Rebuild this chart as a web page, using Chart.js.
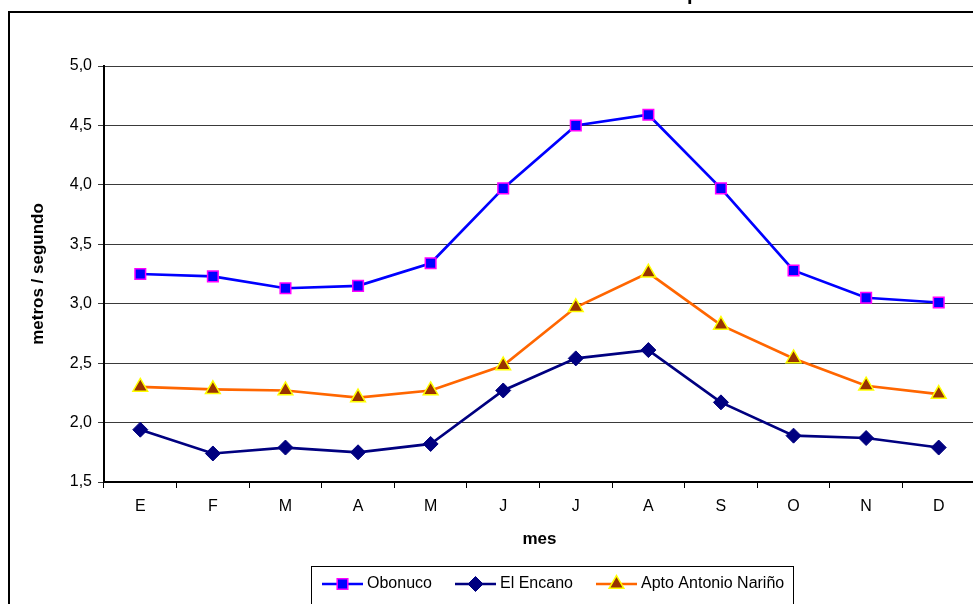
<!DOCTYPE html>
<html>
<head>
<meta charset="utf-8">
<script src="https://cdn.jsdelivr.net/npm/chart.js@4/dist/chart.umd.min.js"></script>
<style>
  html, body { margin: 0; padding: 0; background: #fff; overflow: hidden; }
  #wrap { position: relative; width: 973px; height: 604px; overflow: hidden; }
  canvas { position: absolute; left: 0; top: 0; }
</style>
</head>
<body>
<div id="wrap"><canvas id="c" width="985" height="620"></canvas></div>
<script>
// Monthly mean wind speed (m/s) at three stations
const meses = ['E', 'F', 'M', 'A', 'M', 'J', 'J', 'A', 'S', 'O', 'N', 'D'];
const obonuco = [3.25, 3.23, 3.13, 3.15, 3.34, 3.97, 4.50, 4.59, 3.97, 3.28, 3.05, 3.01];
const elEncano = [1.94, 1.74, 1.79, 1.75, 1.82, 2.27, 2.54, 2.61, 2.17, 1.89, 1.87, 1.79];
const aptoNarino = [2.30, 2.28, 2.27, 2.21, 2.27, 2.48, 2.97, 3.26, 2.82, 2.54, 2.31, 2.24];
const tituloGrafico = 'Velocidad del viento promedio';

const FONT = "'Liberation Sans', Arial, sans-serif";

// Frame around the whole chart and the title sitting above it
const framePlugin = {
  id: 'frame',
  beforeDraw(chart) {
    const ctx = chart.ctx;
    ctx.save();
    ctx.fillStyle = '#fff';
    ctx.fillRect(0, 0, chart.width, chart.height);
    ctx.strokeStyle = '#000';
    ctx.lineWidth = 2;
    ctx.strokeRect(9, 12, chart.width + 20, chart.height + 20);
    ctx.font = 'bold 20px ' + FONT;
    ctx.fillStyle = '#000';
    ctx.textBaseline = 'alphabetic';
    const pre = tituloGrafico.slice(0, tituloGrafico.indexOf('p'));
    const x0 = 687 - ctx.measureText(pre).width;
    ctx.fillText(tituloGrafico, x0, 0);
    ctx.restore();
  }
};

// Boxed legend with a line segment and marker for each series
const legendPlugin = {
  id: 'boxLegend',
  afterDraw(chart) {
    const ctx = chart.ctx;
    const y = 584;
    ctx.save();
    ctx.strokeStyle = '#000';
    ctx.lineWidth = 1;
    ctx.strokeRect(311.5, 566.5, 482, 80);
    ctx.font = '16px ' + FONT;
    ctx.textBaseline = 'middle';
    ctx.fillStyle = '#000';
    const starts = [322, 455, 596];
    chart.data.datasets.forEach((ds, i) => {
      const x = starts[i];
      ctx.strokeStyle = ds.borderColor;
      ctx.lineWidth = ds.borderWidth;
      ctx.beginPath();
      ctx.moveTo(x, y);
      ctx.lineTo(x + 41, y);
      ctx.stroke();
      ctx.fillStyle = ds.pointBackgroundColor;
      ctx.strokeStyle = ds.pointBorderColor;
      ctx.lineWidth = ds.pointBorderWidth;
      Chart.helpers.drawPoint(ctx, {
        pointStyle: ds.pointStyle,
        radius: ds.pointRadius,
        rotation: 0,
        borderWidth: ds.pointBorderWidth
      }, x + 20.5, y);
      ctx.fillStyle = '#000';
      ctx.fillText(ds.label, x + 45, y);
    });
    ctx.restore();
  }
};

new Chart(document.getElementById('c'), {
  type: 'line',
  data: {
    labels: meses,
    datasets: [
      {
        label: 'Obonuco',
        data: obonuco,
        borderColor: '#0000ff',
        borderWidth: 2.7,
        pointStyle: 'rect',
        pointRadius: 7.5,
        pointBackgroundColor: '#0000ff',
        pointBorderColor: '#ff00ff',
        pointBorderWidth: 1.5
      },
      {
        label: 'El Encano',
        data: elEncano,
        borderColor: '#000080',
        borderWidth: 2.7,
        pointStyle: 'rectRot',
        pointRadius: 7.5,
        pointBackgroundColor: '#000080',
        pointBorderColor: '#000080',
        pointBorderWidth: 1
      },
      {
        label: 'Apto Antonio Nariño',
        data: aptoNarino,
        borderColor: '#ff6600',
        borderWidth: 2.7,
        pointStyle: 'triangle',
        pointRadius: 8.5,
        pointBackgroundColor: '#993300',
        pointBorderColor: '#ffff00',
        pointBorderWidth: 1.5
      }
    ]
  },
  options: {
    responsive: false,
    animation: false,
    devicePixelRatio: 1,
    layout: { padding: { left: 20, top: 66, right: 10, bottom: 68 } },
    elements: { line: { tension: 0 } },
    plugins: { legend: { display: false }, tooltip: { enabled: false } },
    scales: {
      x: {
        offset: true,
        afterFit(scale) { scale.height = 70; },
        grid: {
          offset: true,
          drawOnChartArea: false,
          drawTicks: true,
          tickLength: 6,
          color: '#000',
          lineWidth: 1
        },
        border: { color: '#000', width: 2 },
        ticks: {
          color: '#000',
          font: { family: FONT, size: 16 },
          padding: 9,
          maxRotation: 0
        },
        title: {
          display: true,
          text: 'mes',
          color: '#000',
          font: { family: FONT, size: 17, weight: 'bold' },
          padding: { top: 0, bottom: 2 }
        }
      },
      y: {
        min: 1.5,
        max: 5.0,
        afterFit(scale) { scale.width = 84; },
        grid: {
          color: '#3a3a3a',
          lineWidth: 1,
          tickLength: 6
        },
        border: { color: '#000', width: 2 },
        ticks: {
          stepSize: 0.5,
          color: '#000',
          font: { family: FONT, size: 16 },
          padding: 6,
          callback: v => v.toFixed(1).replace('.', ',')
        },
        title: {
          display: true,
          text: 'metros / segundo',
          color: '#000',
          font: { family: FONT, size: 17, weight: 'bold' },
          padding: { top: 8, bottom: 0 }
        }
      }
    }
  },
  plugins: [framePlugin, legendPlugin]
});
</script>
</body>
</html>
